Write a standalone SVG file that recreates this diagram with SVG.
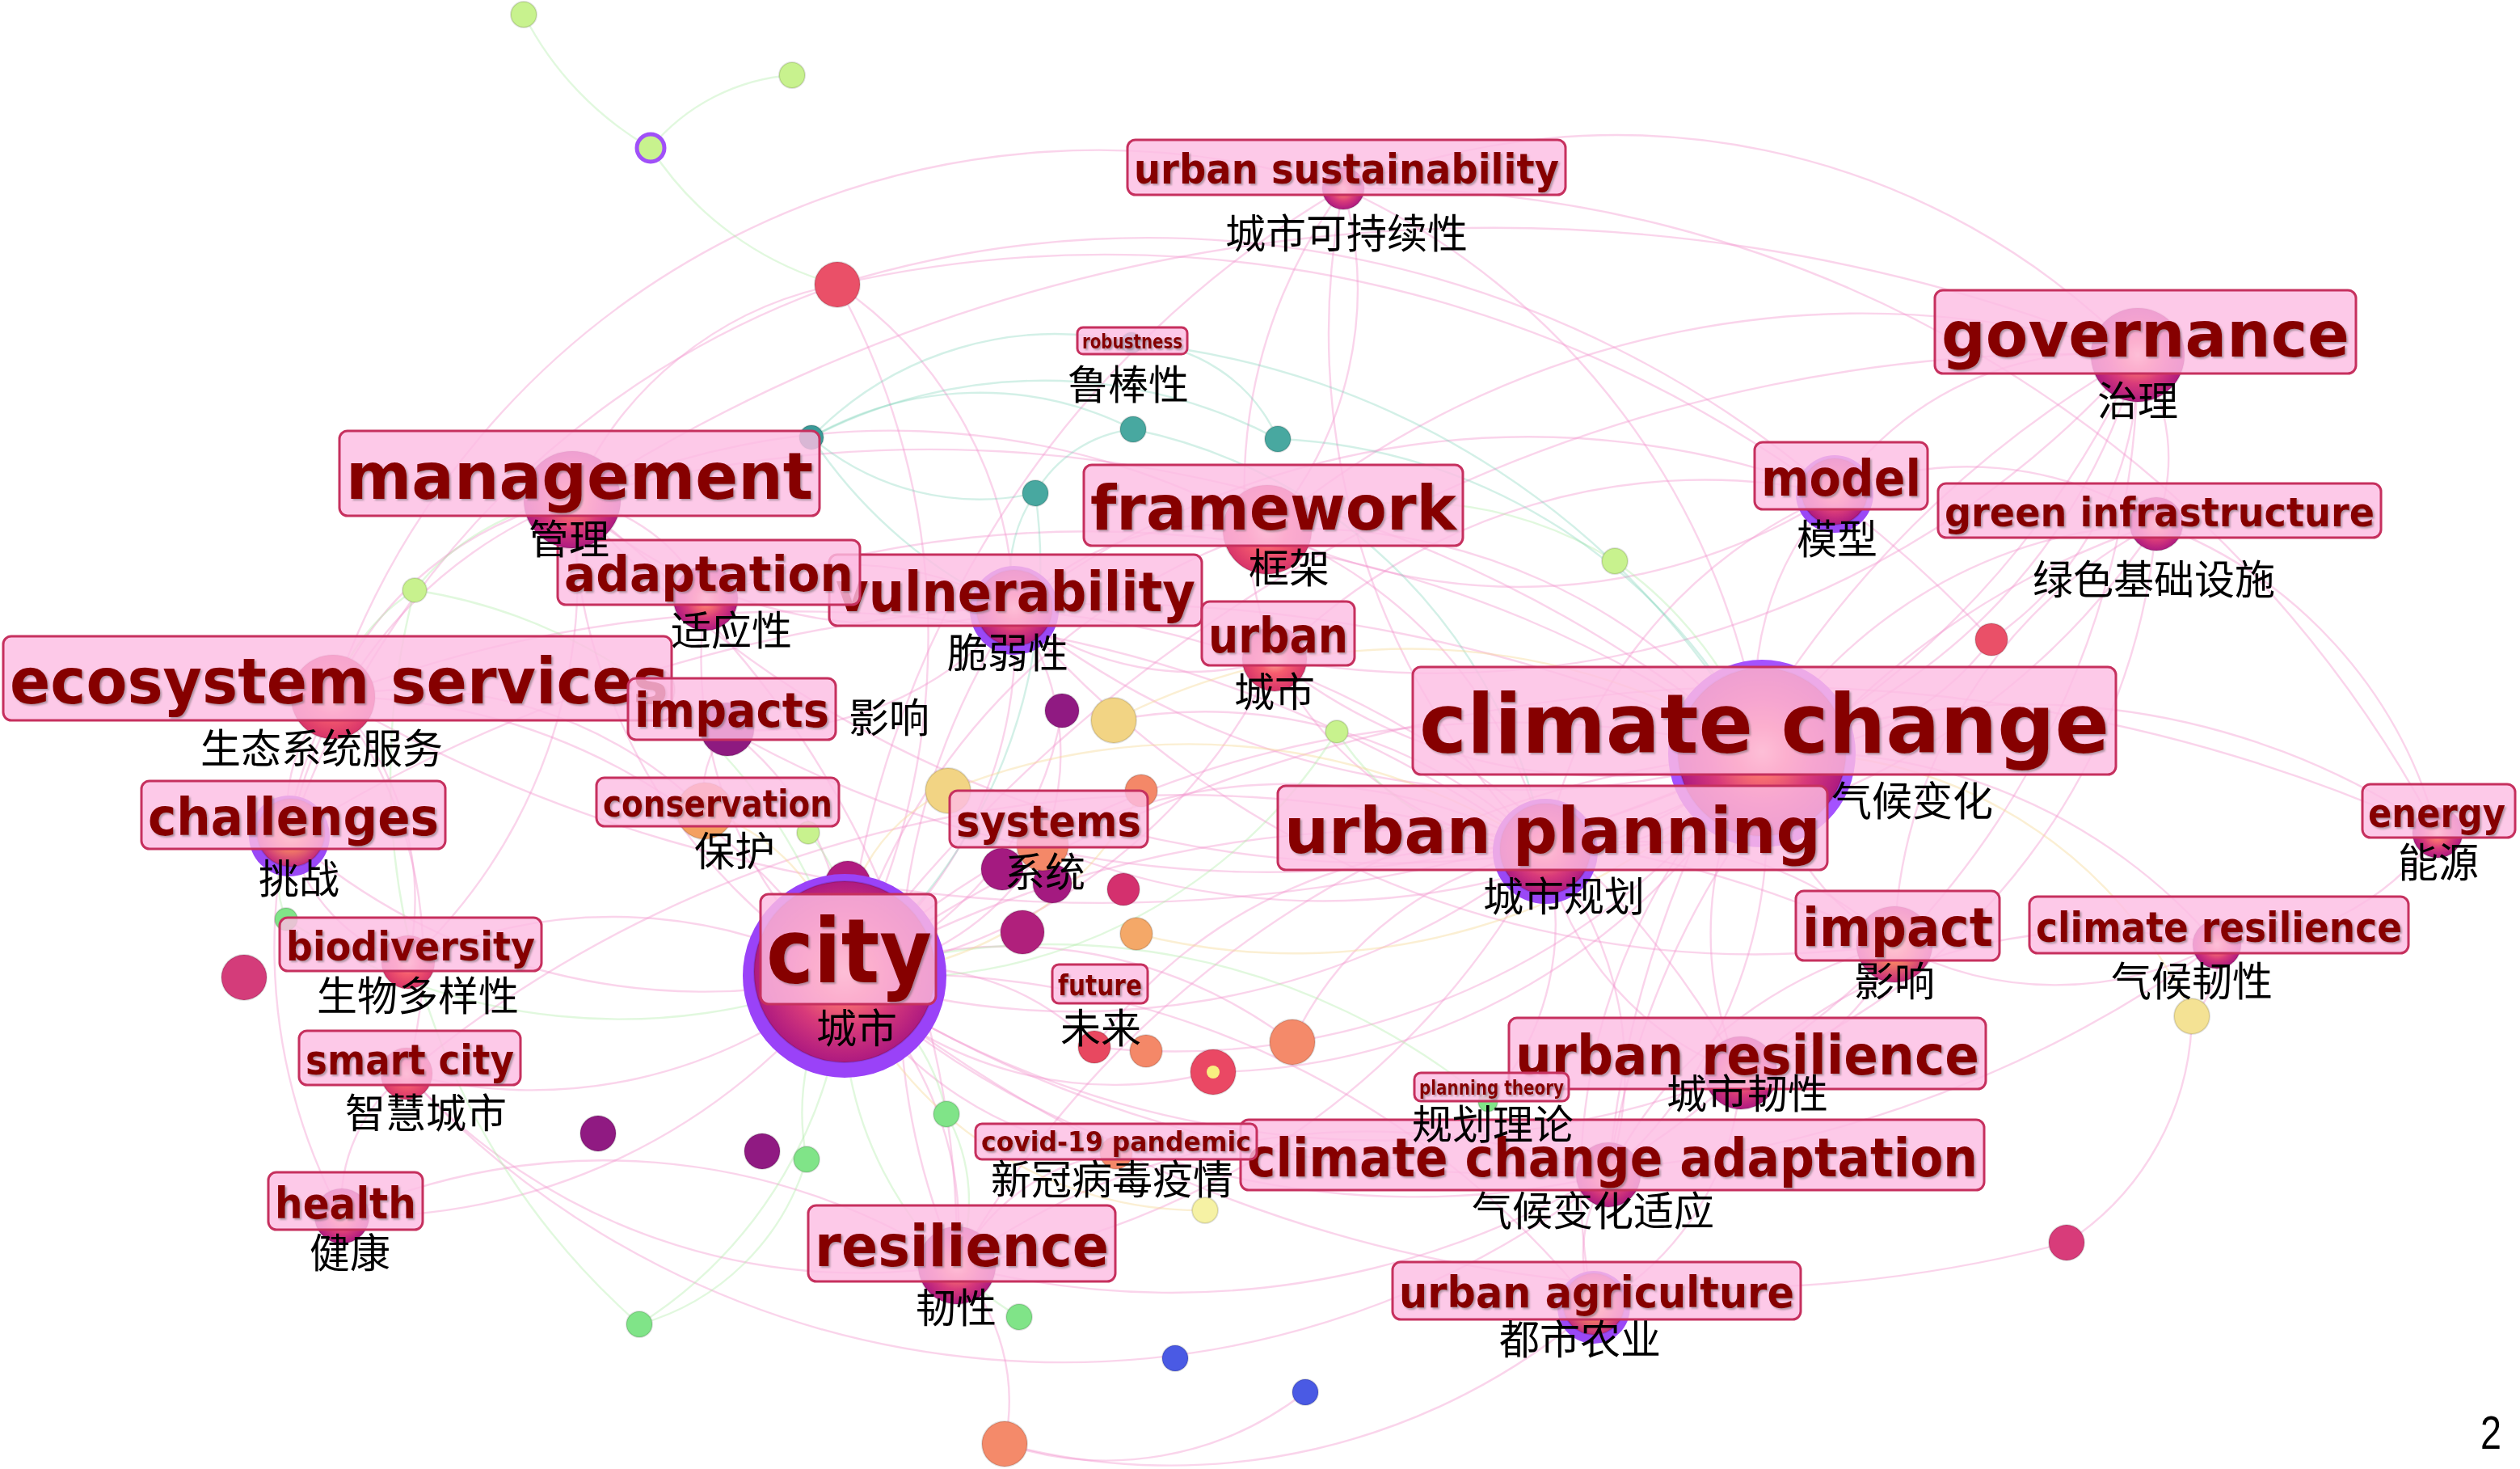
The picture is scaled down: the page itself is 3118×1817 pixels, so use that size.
<svg xmlns="http://www.w3.org/2000/svg" width="3118" height="1817" viewBox="0 0 3118 1817">
<style>
.e{fill:none;stroke:#f294cc;stroke-opacity:.4;stroke-width:2.4}
.eg{stroke:#a8eca0;stroke-opacity:.35}
.et{stroke:#6cccb0;stroke-opacity:.3}
.ey{stroke:#f4d890;stroke-opacity:.4}
.n{stroke:#000;stroke-opacity:.12;stroke-width:2}
.ring{fill:#9a48f6}
.box{fill:#fcbde3;fill-opacity:.82;stroke:#c6305e;stroke-width:3}
.lb{font-family:"DejaVu Sans","Open Sans",sans-serif;font-weight:bold;fill:#860000;filter:url(#sh)}
.zh{font-family:"Noto Sans CJK SC",sans-serif;font-size:50px;fill:#000;text-anchor:middle}
</style>
<defs>
<radialGradient id="gm"><stop offset="0" stop-color="#ffc4a0"/><stop offset=".3" stop-color="#f87070"/><stop offset=".62" stop-color="#d83a7a"/><stop offset="1" stop-color="#ae1a80"/></radialGradient>
<radialGradient id="gr"><stop offset="0" stop-color="#ffc0a0"/><stop offset=".45" stop-color="#f65c6e"/><stop offset="1" stop-color="#d8346a"/></radialGradient>
<radialGradient id="go"><stop offset="0" stop-color="#fff080"/><stop offset=".38" stop-color="#ff9060"/><stop offset="1" stop-color="#c42a7c"/></radialGradient>
<filter id="sh" x="-5%" y="-20%" width="110%" height="140%"><feDropShadow dx="2" dy="2" stdDeviation="1" flood-color="#555" flood-opacity=".45"/></filter>
</defs>
<rect width="3118" height="1817" fill="#fff"/>
<g id="connectors" class="e">
<path d="M1045 1207A700 700 0 0 1 708 618"/>
<path d="M1045 1207A750 750 0 0 0 412 862"/>
<path d="M1045 1207A520 520 0 0 1 873 740"/>
<path d="M1045 1207A520 520 0 0 0 1255 755"/>
<path d="M1045 1207A800 800 0 0 1 1568 655"/>
<path d="M1045 1207A700 700 0 0 0 1577 815"/>
<path d="M1045 1207A1250 1250 0 0 1 2180 932"/>
<path d="M1045 1207A950 950 0 0 0 1912 1053"/>
<path d="M1045 1207A1400 1400 0 0 1 2344 1168"/>
<path d="M1045 1207A1200 1200 0 0 0 2154 1327"/>
<path d="M1045 1207A1050 1050 0 0 0 1990 1453"/>
<path d="M1045 1207A420 420 0 0 1 1184 1565"/>
<path d="M1045 1207A600 600 0 0 1 503 1328"/>
<path d="M1045 1207A600 600 0 0 0 505 1190"/>
<path d="M1045 1207A750 750 0 0 1 423 1504"/>
<path d="M1045 1207A780 780 0 0 1 358 1034"/>
<path d="M1045 1207A1900 1900 0 0 1 2645 439"/>
<path d="M1045 1207A1250 1250 0 0 1 1662 233"/>
<path d="M1045 1207A450 450 0 0 0 1381 1426"/>
<path d="M1045 1207A1100 1100 0 0 1 1972 1617"/>
<path d="M1045 1207A1700 1700 0 0 0 2557 1537"/>
<path d="M1045 1207A900 900 0 0 0 1036 352"/>
<path d="M1045 1207A1500 1500 0 0 0 2743 1168"/>
<path d="M1045 1207A2000 2000 0 0 1 3016 1030"/>
<path d="M2180 932A1600 1600 0 0 0 708 618"/>
<path d="M2180 932A1900 1900 0 0 1 412 862"/>
<path d="M2180 932A1400 1400 0 0 0 873 740"/>
<path d="M2180 932A1000 1000 0 0 1 1255 755"/>
<path d="M2180 932A720 720 0 0 0 1568 655"/>
<path d="M2180 932A660 660 0 0 1 1577 815"/>
<path d="M2180 932A320 320 0 0 1 1912 1053"/>
<path d="M2180 932A320 320 0 0 0 2344 1168"/>
<path d="M2180 932A680 680 0 0 1 2743 1168"/>
<path d="M2180 932A900 900 0 0 1 3016 1030"/>
<path d="M2180 932A720 720 0 0 0 2645 439"/>
<path d="M2180 932A360 360 0 0 1 2270 611"/>
<path d="M2180 932A600 600 0 0 1 2668 648"/>
<path d="M2180 932A420 420 0 0 0 2154 1327"/>
<path d="M2180 932A580 580 0 0 1 1990 1453"/>
<path d="M2180 932A1250 1250 0 0 0 1184 1565"/>
<path d="M2180 932A740 740 0 0 0 1972 1617"/>
<path d="M2180 932A1350 1350 0 0 1 900 902"/>
<path d="M2180 932A900 900 0 0 0 1662 233"/>
<path d="M2180 932A1900 1900 0 0 0 358 1034"/>
<path d="M2180 932A350 350 0 0 0 2464 791"/>
<path d="M1912 1053A1350 1350 0 0 1 708 618"/>
<path d="M1912 1053A550 550 0 0 0 1568 655"/>
<path d="M1912 1053A1100 1100 0 0 0 2645 439"/>
<path d="M1912 1053A600 600 0 0 1 2270 611"/>
<path d="M1912 1053A900 900 0 0 0 2668 648"/>
<path d="M1912 1053A380 380 0 0 0 2154 1327"/>
<path d="M1912 1053A420 420 0 0 1 1990 1453"/>
<path d="M1912 1053A980 980 0 0 1 1184 1565"/>
<path d="M1912 1053A1500 1500 0 0 0 503 1328"/>
<path d="M1912 1053A440 440 0 0 1 1577 815"/>
<path d="M1912 1053A480 480 0 0 1 2344 1168"/>
<path d="M1912 1053A1600 1600 0 0 0 412 862"/>
<path d="M1912 1053A900 900 0 0 1 1662 233"/>
<path d="M1912 1053A330 330 0 0 1 1841 1363"/>
<path d="M2645 439A400 400 0 0 0 2270 611"/>
<path d="M2645 439A230 230 0 0 1 2668 648"/>
<path d="M2645 439A1150 1150 0 0 0 1568 655"/>
<path d="M2645 439A1150 1150 0 0 1 1577 815"/>
<path d="M2645 439A1050 1050 0 0 1 2154 1327"/>
<path d="M2645 439A1300 1300 0 0 0 1990 1453"/>
<path d="M2645 439A900 900 0 0 0 1662 233"/>
<path d="M2645 439A2100 2100 0 0 0 708 618"/>
<path d="M2645 439A420 420 0 0 1 2464 791"/>
<path d="M708 618A420 420 0 0 0 412 862"/>
<path d="M708 618A220 220 0 0 1 873 740"/>
<path d="M708 618A950 950 0 0 1 1568 655"/>
<path d="M708 618A600 600 0 0 0 1255 755"/>
<path d="M708 618A560 560 0 0 0 358 1034"/>
<path d="M708 618A650 650 0 0 1 505 1190"/>
<path d="M708 618A1150 1150 0 0 1 1184 1565"/>
<path d="M708 618A450 450 0 0 1 1036 352"/>
<path d="M412 862A360 360 0 0 1 505 1190"/>
<path d="M412 862A200 200 0 0 0 358 1034"/>
<path d="M412 862A520 520 0 0 1 503 1328"/>
<path d="M412 862A700 700 0 0 0 423 1504"/>
<path d="M412 862A520 520 0 0 1 872 1003"/>
<path d="M412 862A1000 1000 0 0 1 1662 233"/>
<path d="M358 1034A1100 1100 0 0 1 1036 352"/>
<path d="M1255 755A400 400 0 0 0 873 740"/>
<path d="M1255 755A350 350 0 0 1 1568 655"/>
<path d="M1255 755A420 420 0 0 1 900 902"/>
<path d="M1255 755A350 350 0 0 0 1577 815"/>
<path d="M1255 755A850 850 0 0 0 1184 1565"/>
<path d="M1255 755A1100 1100 0 0 1 2154 1327"/>
<path d="M1255 755A1200 1200 0 0 0 2344 1168"/>
<path d="M1184 1565A1050 1050 0 0 0 2154 1327"/>
<path d="M1184 1565A860 860 0 0 1 1990 1453"/>
<path d="M1184 1565A760 760 0 0 1 503 1328"/>
<path d="M1184 1565A800 800 0 0 0 423 1504"/>
<path d="M1184 1565A260 260 0 0 1 1381 1426"/>
<path d="M1184 1565A250 250 0 0 1 1243 1786"/>
<path d="M3016 1030A330 330 0 0 1 2743 1168"/>
<path d="M3016 1030A560 560 0 0 0 2668 648"/>
<path d="M2743 1168A420 420 0 0 1 2344 1168"/>
<path d="M2743 1168A650 650 0 0 0 2154 1327"/>
<path d="M2743 1168A100 100 0 0 1 2712 1257"/>
<path d="M2712 1257A340 340 0 0 1 2557 1537"/>
<path d="M1972 1617A170 170 0 0 1 1990 1453"/>
<path d="M1972 1617A350 350 0 0 0 2154 1327"/>
<path d="M1972 1617A800 800 0 0 1 1243 1786"/>
<path d="M1243 1786A400 400 0 0 0 1615 1722"/>
<path d="M503 1328A1100 1100 0 0 0 1990 1453"/>
<path d="M423 1504A200 200 0 0 1 503 1328"/>
<path d="M358 1034A220 220 0 0 0 505 1190"/>
<path d="M1662 233A450 450 0 0 1 1568 655"/>
<path d="M1662 233A620 620 0 0 0 1577 815"/>
<path d="M1662 233A1500 1500 0 0 1 3016 1030"/>
<path d="M1036 352A500 500 0 0 1 1255 755"/>
<path d="M1036 352A1300 1300 0 0 1 2270 611"/>
<path d="M1036 352A1500 1500 0 0 1 2464 791"/>
<path d="M900 902A120 120 0 0 0 872 1003"/>
<path d="M900 902A360 360 0 0 1 1045 1207"/>
<path d="M1354 1295A320 320 0 0 0 1045 1207"/>
<path d="M1354 1295A600 600 0 0 1 1912 1053"/>
<path d="M1354 1295A900 900 0 0 0 2180 932"/>
<path d="M1290 1045A320 320 0 0 1 1045 1207"/>
<path d="M1290 1045A900 900 0 0 0 2180 932"/>
<path d="M1290 1045A650 650 0 0 1 1912 1053"/>
<path d="M1290 1045A300 300 0 0 0 1255 755"/>
<path d="M1501 1326A480 480 0 0 1 1045 1207"/>
<path d="M1501 1326A800 800 0 0 0 2180 932"/>
<path d="M1599 1289A580 580 0 0 0 1045 1207"/>
<path d="M1599 1289A420 420 0 0 1 1912 1053"/>
<path d="M1314 879A420 420 0 0 1 1045 1207"/>
<path d="M1378 891A600 600 0 0 1 1912 1053"/>
<path d="M2344 1168A250 250 0 0 1 2154 1327"/>
<path d="M2344 1168A550 550 0 0 0 1990 1453"/>
<path d="M2344 1168A600 600 0 0 1 2668 648"/>
<path d="M2270 611A420 420 0 0 1 2668 648"/>
<path d="M2270 611A750 750 0 0 0 1577 815"/>
<path d="M2270 611A720 720 0 0 1 1568 655"/>
<path d="M2270 611A1050 1050 0 0 0 1255 755"/>
<path d="M2668 648A800 800 0 0 1 2154 1327"/>
<path d="M2668 648A1000 1000 0 0 0 1990 1453"/>
<path class="eg" d="M648 18A400 400 0 0 0 805 183"/>
<path class="eg" d="M805 183A250 250 0 0 1 980 93"/>
<path class="eg" d="M805 183A400 400 0 0 0 1036 352"/>
<path class="eg" d="M513 730A240 240 0 0 0 412 862"/>
<path class="eg" d="M513 730A650 650 0 0 1 1045 1207"/>
<path class="eg" d="M513 730A300 300 0 0 1 708 618"/>
<path class="eg" d="M354 1137A750 750 0 0 0 1045 1207"/>
<path class="eg" d="M354 1137A120 120 0 0 1 358 1034"/>
<path class="eg" d="M1000 1030A200 200 0 0 1 1045 1207"/>
<path class="eg" d="M1171 1378A250 250 0 0 0 1045 1207"/>
<path class="eg" d="M998 1434A300 300 0 0 1 1045 1207"/>
<path class="eg" d="M791 1638A550 550 0 0 0 1045 1207"/>
<path class="eg" d="M791 1638A900 900 0 0 1 513 730"/>
<path class="eg" d="M791 1638A300 300 0 0 0 998 1434"/>
<path class="eg" d="M1261 1629A450 450 0 0 1 1045 1207"/>
<path class="eg" d="M1998 694A500 500 0 0 1 2180 932"/>
<path class="eg" d="M1998 694A480 480 0 0 0 1568 655"/>
<path class="eg" d="M1654 905A650 650 0 0 1 1045 1207"/>
<path class="eg" d="M1654 905A320 320 0 0 0 1912 1053"/>
<path class="eg" d="M1841 1363A850 850 0 0 0 1045 1207"/>
<path class="eg" d="M1171 1378A220 220 0 0 1 1184 1565"/>
<path class="et" d="M1004 541A420 420 0 0 1 1402 531"/>
<path class="et" d="M1004 541A320 320 0 0 0 1281 610"/>
<path class="et" d="M1004 541A620 620 0 0 1 1581 543"/>
<path class="et" d="M1004 541A420 420 0 0 1 1400 424"/>
<path class="et" d="M1281 610A160 160 0 0 1 1402 531"/>
<path class="et" d="M1281 610A650 650 0 0 1 1045 1207"/>
<path class="et" d="M1402 531A650 650 0 0 1 1912 1053"/>
<path class="et" d="M1581 543A700 700 0 0 1 2180 932"/>
<path class="et" d="M1400 424A200 200 0 0 1 1581 543"/>
<path class="et" d="M1400 424A1000 1000 0 0 1 2180 932"/>
<path class="et" d="M1281 610A180 180 0 0 0 1255 755"/>
<path class="et" d="M1004 541A600 600 0 0 0 1255 755"/>
<path class="ey" d="M1378 891A800 800 0 0 1 2180 932"/>
<path class="ey" d="M1173 978A220 220 0 0 0 1045 1207"/>
<path class="ey" d="M1173 978A800 800 0 0 1 1912 1053"/>
<path class="ey" d="M1412 978A420 420 0 0 1 1045 1207"/>
<path class="ey" d="M1406 1155A800 800 0 0 0 2180 932"/>
<path class="ey" d="M2712 1257A550 550 0 0 0 2180 932"/>
<path class="ey" d="M1491 1497A480 480 0 0 1 1045 1207"/>
<path class="ey" d="M872 1003A250 250 0 0 1 1045 1207"/>
</g>
<g id="unlabelled-nodes" class="n">
<g id="n01"><circle cx="648" cy="18" r="16" fill="#c8f28e"/></g>
<g id="n02"><circle cx="980" cy="93" r="16" fill="#c8f28e"/></g>
<g id="n03"><circle cx="805" cy="183" r="17" fill="#c8f28e" stroke="#a050f8" stroke-width="5" stroke-opacity="1"/></g>
<g id="n04"><circle cx="1036" cy="352" r="28" fill="#ea5068"/></g>
<g id="n05"><circle cx="1004" cy="541" r="15" fill="#3a9a98"/></g>
<g id="n06"><circle cx="1402" cy="531" r="16" fill="#48a8a0"/></g>
<g id="n07"><circle cx="1581" cy="543" r="16" fill="#48a8a0"/></g>
<g id="n08"><circle cx="1281" cy="610" r="16" fill="#48a8a0"/></g>
<g id="n09"><circle cx="1998" cy="694" r="16" fill="#c8f28e"/></g>
<g id="n10"><circle cx="513" cy="730" r="15" fill="#c8f28e"/></g>
<g id="n11"><circle cx="2464" cy="791" r="20" fill="#ea5068"/></g>
<g id="n12"><circle cx="1314" cy="879" r="21" fill="#901a82"/></g>
<g id="n13"><circle cx="1378" cy="891" r="28" fill="#f2d484"/></g>
<g id="n14"><circle cx="1654" cy="905" r="14" fill="#c8f28e"/></g>
<g id="n15"><circle cx="1173" cy="978" r="28" fill="#f2d484"/></g>
<g id="n16"><circle cx="1412" cy="978" r="20" fill="#f48868"/></g>
<g id="n17"><circle cx="1000" cy="1030" r="14" fill="#c8f28e"/></g>
<g id="n18"><circle cx="1240" cy="1075" r="26" fill="#a41a80"/></g>
<g id="n19"><circle cx="1302" cy="1093" r="24" fill="#a41a80"/></g>
<g id="n20"><circle cx="1390" cy="1100" r="20" fill="#d4306e"/></g>
<g id="n21"><circle cx="1265" cy="1153" r="27" fill="#b0207c"/></g>
<g id="n22"><circle cx="1406" cy="1155" r="20" fill="#f4a868"/></g>
<g id="n23"><circle cx="354" cy="1137" r="14" fill="#80e488"/></g>
<g id="n24"><circle cx="302" cy="1209" r="28" fill="#d43c7a"/></g>
<g id="n25"><circle cx="1418" cy="1300" r="20" fill="#f48868"/></g>
<g id="n26"><circle cx="1501" cy="1326" r="28" fill="#ea4864"/><circle cx="1501" cy="1326" r="8" fill="#f8f080" stroke="none"/></g>
<g id="n27"><circle cx="1599" cy="1289" r="28" fill="#f48a6a"/></g>
<g id="n28"><circle cx="740" cy="1402" r="22" fill="#901a82"/></g>
<g id="n29"><circle cx="943" cy="1424" r="22" fill="#901a82"/></g>
<g id="n30"><circle cx="1171" cy="1378" r="16" fill="#80e488"/></g>
<g id="n31"><circle cx="998" cy="1434" r="16" fill="#80e488"/></g>
<g id="n32"><circle cx="1491" cy="1497" r="16" fill="#f6f2a4"/></g>
<g id="n33"><circle cx="1261" cy="1629" r="16" fill="#80e488"/></g>
<g id="n34"><circle cx="791" cy="1638" r="16" fill="#80e488"/></g>
<g id="n35"><circle cx="1454" cy="1680" r="16" fill="#4a5ae4"/></g>
<g id="n36"><circle cx="1615" cy="1722" r="16" fill="#4a5ae4"/></g>
<g id="n37"><circle cx="1243" cy="1786" r="28" fill="#f48a6a"/></g>
<g id="n38"><circle cx="2557" cy="1537" r="22" fill="#d83c7a"/></g>
<g id="n39"><circle cx="2712" cy="1257" r="22" fill="#f4e294"/></g>
<g id="n40"><circle cx="1049" cy="1093" r="28" fill="#b01c80"/></g>
<g id="n41"><circle cx="807" cy="853" r="28" fill="#f8a8c8" fill-opacity=".6"/></g>
</g>
<g id="node-urban-sustainability"><circle class="n" cx="1662" cy="233" r="26" fill="url(#gm)"/><rect class="box" x="1395" y="173" width="542" height="68" rx="10"/><text class="lb" x="1403" y="227" font-size="52" textLength="526" lengthAdjust="spacingAndGlyphs">urban sustainability</text><text class="zh" x="1666" y="307">城市可持续性</text></g>
<g id="node-robustness"><circle class="n" cx="1400" cy="424" r="13" fill="#48a8a0"/><rect class="box" x="1333" y="405" width="136" height="33" rx="7"/><text class="lb" x="1339" y="431" font-size="24" textLength="124" lengthAdjust="spacingAndGlyphs">robustness</text><text class="zh" x="1396" y="494">鲁棒性</text></g>
<g id="node-governance"><circle class="n" cx="2645" cy="439" r="58" fill="url(#gm)"/><rect class="box" x="2394" y="359" width="521" height="103" rx="10"/><text class="lb" x="2402" y="441" font-size="78" textLength="505" lengthAdjust="spacingAndGlyphs">governance</text><text class="zh" x="2645" y="514">治理</text></g>
<g id="node-framework"><circle class="n" cx="1568" cy="655" r="55" fill="url(#gr)"/><rect class="box" x="1341" y="575" width="469" height="100" rx="10"/><text class="lb" x="1349" y="655" font-size="76" textLength="453" lengthAdjust="spacingAndGlyphs">framework</text><text class="zh" x="1595" y="721">框架</text></g>
<g id="node-model"><circle class="ring" cx="2270" cy="611" r="48"/><circle class="n" cx="2270" cy="608" r="41" fill="url(#gm)"/><rect class="box" x="2171" y="547" width="214" height="83" rx="10"/><text class="lb" x="2179" y="613" font-size="63" textLength="198" lengthAdjust="spacingAndGlyphs">model</text><text class="zh" x="2273" y="685">模型</text></g>
<g id="node-green-infrastructure"><circle class="n" cx="2668" cy="648" r="33" fill="url(#gm)"/><rect class="box" x="2398" y="598" width="548" height="67" rx="10"/><text class="lb" x="2406" y="651" font-size="50" textLength="532" lengthAdjust="spacingAndGlyphs">green infrastructure</text><text class="zh" x="2665" y="735">绿色基础设施</text></g>
<g id="node-ecosystem-services"><circle class="n" cx="412" cy="862" r="52" fill="url(#gr)"/><rect class="box" x="4" y="787" width="827" height="104" rx="10"/><text class="lb" x="12" y="870" font-size="79" textLength="815" lengthAdjust="spacingAndGlyphs">ecosystem services</text><text class="zh" x="398" y="944">生态系统服务</text></g>
<g id="node-impacts"><circle class="n" cx="900" cy="902" r="33" fill="#8e1a80"/><rect class="box" x="777" y="839" width="257" height="76" rx="10"/><text class="lb" x="785" y="899" font-size="58" textLength="241" lengthAdjust="spacingAndGlyphs">impacts</text><text class="zh" x="1100" y="906">影响</text></g>
<g id="node-vulnerability"><circle class="ring" cx="1255" cy="755" r="55"/><circle class="n" cx="1255" cy="752" r="47" fill="url(#gm)"/><rect class="box" x="1026" y="686" width="461" height="88" rx="10"/><text class="lb" x="1034" y="756" font-size="67" textLength="445" lengthAdjust="spacingAndGlyphs">vulnerability</text><text class="zh" x="1247" y="826">脆弱性</text></g>
<g id="node-adaptation"><circle class="n" cx="873" cy="740" r="40" fill="url(#gm)"/><rect class="box" x="690" y="668" width="374" height="80" rx="10"/><text class="lb" x="698" y="731" font-size="61" textLength="358" lengthAdjust="spacingAndGlyphs">adaptation</text><text class="zh" x="905" y="798">适应性</text></g>
<g id="node-management"><circle class="n" cx="708" cy="618" r="60" fill="url(#gm)"/><rect class="box" x="420" y="533" width="594" height="105" rx="10"/><text class="lb" x="428" y="617" font-size="80" textLength="578" lengthAdjust="spacingAndGlyphs">management</text><text class="zh" x="704" y="685">管理</text></g>
<g id="node-urban"><circle class="n" cx="1577" cy="815" r="40" fill="url(#gr)"/><rect class="box" x="1487" y="744" width="189" height="79" rx="10"/><text class="lb" x="1495" y="807" font-size="60" textLength="173" lengthAdjust="spacingAndGlyphs">urban</text><text class="zh" x="1577" y="874">城市</text></g>
<g id="node-climate-change"><circle cx="2180" cy="932" r="116" fill="#a452ff"/><circle class="n" cx="2180" cy="930" r="104" fill="url(#gm)"/><rect class="box" x="1748" y="825" width="870" height="133" rx="10"/><text class="lb" x="1756" y="931" font-size="101" textLength="854" lengthAdjust="spacingAndGlyphs">climate change</text><text class="zh" x="2366" y="1009">气候变化</text></g>
<g id="node-urban-planning"><circle class="ring" cx="1912" cy="1053" r="65"/><circle class="n" cx="1912" cy="1050" r="56" fill="url(#gm)"/><rect class="box" x="1581" y="972" width="680" height="104" rx="10"/><text class="lb" x="1589" y="1055" font-size="79" textLength="664" lengthAdjust="spacingAndGlyphs">urban planning</text><text class="zh" x="1935" y="1127">城市规划</text></g>
<g id="node-challenges"><circle class="ring" cx="358" cy="1034" r="50"/><circle class="n" cx="360" cy="1030" r="42" fill="url(#go)"/><rect class="box" x="175" y="966" width="376" height="84" rx="10"/><text class="lb" x="183" y="1033" font-size="64" textLength="360" lengthAdjust="spacingAndGlyphs">challenges</text><text class="zh" x="370" y="1105">挑战</text></g>
<g id="node-conservation"><circle class="n" cx="872" cy="1003" r="35" fill="#f4a060"/><rect class="box" x="738" y="962" width="300" height="60" rx="10"/><text class="lb" x="746" y="1010" font-size="46" textLength="284" lengthAdjust="spacingAndGlyphs">conservation</text><text class="zh" x="909" y="1071">保护</text></g>
<g id="node-systems"><circle class="n" cx="1290" cy="1045" r="32" fill="#f48868"/><rect class="box" x="1175" y="978" width="245" height="70" rx="10"/><text class="lb" x="1183" y="1034" font-size="53" textLength="229" lengthAdjust="spacingAndGlyphs">systems</text><text class="zh" x="1293" y="1097">系统</text></g>
<g id="node-energy"><circle class="n" cx="3016" cy="1030" r="31" fill="url(#gm)"/><rect class="box" x="2923" y="970" width="189" height="66" rx="10"/><text class="lb" x="2930" y="1023" font-size="50" textLength="170" lengthAdjust="spacingAndGlyphs">energy</text><text class="zh" x="3017" y="1085">能源</text></g>
<g id="node-biodiversity"><circle class="n" cx="505" cy="1190" r="33" fill="url(#gr)"/><rect class="box" x="346" y="1135" width="324" height="66" rx="10"/><text class="lb" x="354" y="1188" font-size="50" textLength="308" lengthAdjust="spacingAndGlyphs">biodiversity</text><text class="zh" x="517" y="1250">生物多样性</text></g>
<g id="node-city"><circle cx="1045" cy="1207" r="126" fill="#9a42f8"/><circle class="n" cx="1045" cy="1202" r="112" fill="url(#gm)"/><rect class="box" x="941" y="1106" width="217" height="136" rx="10"/><text class="lb" x="948" y="1215" font-size="110" textLength="205" lengthAdjust="spacingAndGlyphs">city</text><text class="zh" x="1060" y="1290">城市</text></g>
<g id="node-impact"><circle class="n" cx="2344" cy="1168" r="47" fill="url(#go)"/><rect class="box" x="2222" y="1102" width="252" height="86" rx="10"/><text class="lb" x="2230" y="1170" font-size="65" textLength="236" lengthAdjust="spacingAndGlyphs">impact</text><text class="zh" x="2344" y="1232">影响</text></g>
<g id="node-climate-resilience"><circle class="n" cx="2743" cy="1168" r="30" fill="url(#gm)"/><rect class="box" x="2511" y="1109" width="469" height="70" rx="10"/><text class="lb" x="2519" y="1165" font-size="52" textLength="453" lengthAdjust="spacingAndGlyphs">climate resilience</text><text class="zh" x="2712" y="1232">气候韧性</text></g>
<g id="node-future"><circle class="n" cx="1354" cy="1295" r="20" fill="#e84860"/><rect class="box" x="1302" y="1193" width="118" height="48" rx="8"/><text class="lb" x="1309" y="1231" font-size="36" textLength="104" lengthAdjust="spacingAndGlyphs">future</text><text class="zh" x="1362" y="1290">未来</text></g>
<g id="node-smart-city"><circle class="n" cx="503" cy="1328" r="32" fill="url(#gr)"/><rect class="box" x="370" y="1275" width="274" height="67" rx="10"/><text class="lb" x="378" y="1329" font-size="51" textLength="258" lengthAdjust="spacingAndGlyphs">smart city</text><text class="zh" x="527" y="1395">智慧城市</text></g>
<g id="node-urban-resilience"><circle class="n" cx="2154" cy="1327" r="45" fill="url(#gm)"/><rect class="box" x="1867" y="1259" width="590" height="88" rx="10"/><text class="lb" x="1875" y="1329" font-size="67" textLength="574" lengthAdjust="spacingAndGlyphs">urban resilience</text><text class="zh" x="2162" y="1371">城市韧性</text></g>
<g id="node-climate-change-adaptation"><circle class="n" cx="1990" cy="1453" r="40" fill="url(#gm)"/><rect class="box" x="1535" y="1385" width="920" height="87" rx="10"/><text class="lb" x="1543" y="1455" font-size="66" textLength="904" lengthAdjust="spacingAndGlyphs">climate change adaptation</text><text class="zh" x="1971" y="1516">气候变化适应</text></g>
<g id="node-covid-19-pandemic"><circle class="n" cx="1381" cy="1426" r="20" fill="#f48868"/><rect class="box" x="1207" y="1390" width="348" height="44" rx="8"/><text class="lb" x="1214" y="1424" font-size="33" textLength="334" lengthAdjust="spacingAndGlyphs">covid-19 pandemic</text><text class="zh" x="1376" y="1477">新冠病毒疫情</text></g>
<g id="node-planning-theory"><circle class="n" cx="1841" cy="1363" r="12" fill="#80e488"/><rect class="box" x="1750" y="1327" width="191" height="35" rx="8"/><text class="lb" x="1756" y="1354" font-size="25" textLength="179" lengthAdjust="spacingAndGlyphs">planning theory</text><text class="zh" x="1847" y="1409">规划理论</text></g>
<g id="node-health"><circle class="n" cx="423" cy="1504" r="34" fill="url(#gm)"/><rect class="box" x="332" y="1450" width="191" height="71" rx="10"/><text class="lb" x="340" y="1507" font-size="54" textLength="175" lengthAdjust="spacingAndGlyphs">health</text><text class="zh" x="433" y="1568">健康</text></g>
<g id="node-resilience"><circle class="n" cx="1184" cy="1565" r="48" fill="url(#gm)"/><rect class="box" x="1000" y="1491" width="380" height="94" rx="10"/><text class="lb" x="1008" y="1566" font-size="72" textLength="364" lengthAdjust="spacingAndGlyphs">resilience</text><text class="zh" x="1183" y="1636">韧性</text></g>
<g id="node-urban-agriculture"><circle class="ring" cx="1972" cy="1617" r="45"/><circle class="n" cx="1972" cy="1613" r="38" fill="url(#go)"/><rect class="box" x="1723" y="1561" width="505" height="71" rx="10"/><text class="lb" x="1731" y="1617" font-size="54" textLength="489" lengthAdjust="spacingAndGlyphs">urban agriculture</text><text class="zh" x="1955" y="1675">都市农业</text></g>
<text x="3069" y="1792" font-family="Liberation Sans, sans-serif" font-size="58" textLength="26" lengthAdjust="spacingAndGlyphs" fill="#000">2</text>
</svg>
